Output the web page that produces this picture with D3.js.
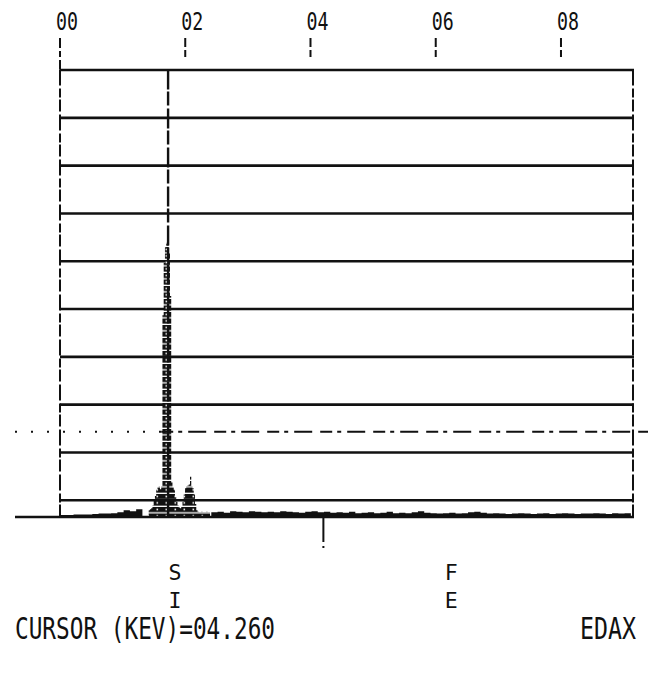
<!DOCTYPE html>
<html>
<head>
<meta charset="utf-8">
<script src="https://cdn.jsdelivr.net/npm/d3@7"></script>
<style>
  html, body { margin: 0; padding: 0; background: #fff; }
  svg { display: block; }
  text { font-family: "DejaVu Sans Mono", "Liberation Mono", monospace; fill: #111; }
</style>
</head>
<body>
<svg id="chart" width="652" height="676"></svg>
<script>
// ---------------- DATA ----------------
const tickValues = [0, 2, 4, 6, 8];
const tickLabels = ["00", "02", "04", "06", "08"];
const xMaxKeV = 9.15;

// full-scale grid levels (in grid units above baseline)
const gridLevels = [0.33, 1.33, 2.33, 3.33, 4.33, 5.33, 6.33, 7.33, 8.33, 9.33];
const markerLevel = 1.76;      // dashed threshold line
const cursorLineKeV = 1.71;    // vertical cursor inside plot
const cursorMarkKeV = 4.19;    // cursor marker below axis
const cursorText = "CURSOR (KEV)=04.260";
const brandText = "EDAX";

// background spectrum, 0.1 keV channels
const bgLowStart = 0.0;
const bgLowCounts = [0.02,0.02,0.03,0.03,0.03,0.04,0.05,0.05,0.06,0.08,0.12,0.10,0.14,0.16];
const bgHighStart = 2.4;
const bgHighCounts = [
  0.08,0.09,0.07,0.10,0.09,0.08,0.10,0.09,0.08,0.09,
  0.08,0.10,0.09,0.08,0.07,0.09,0.10,0.08,0.09,0.07,
  0.08,0.07,0.09,0.06,0.07,0.08,0.06,0.07,0.09,0.06,
  0.07,0.06,0.08,0.10,0.07,0.06,0.05,0.06,0.07,0.05,
  0.06,0.08,0.09,0.07,0.05,0.06,0.05,0.04,0.05,0.06,
  0.05,0.04,0.05,0.06,0.04,0.05,0.06,0.05,0.04,0.05,
  0.05,0.06,0.05,0.04,0.06,0.05,0.06,0.05
];
// peak region, 0.02 keV channels
const peakEnergies = [1.40,1.42,1.44,1.46,1.48,1.50,1.52,1.54,1.56,1.58,1.60,1.62,1.64,1.66,1.68,1.70,1.72,1.74,1.76,1.78,1.80,1.82,1.84,1.86,1.88,1.90,1.92,1.94,1.96,1.98,2.00,2.02,2.04,2.06,2.08,2.10,2.12,2.14,2.16,2.18,2.20,2.22,2.24,2.26,2.28,2.30,2.32,2.34,2.36,2.38];
const peakCounts   = [0.12,0.14,0.16,0.22,0.35,0.42,0.55,0.60,0.62,0.56,0.62,4.20,5.30,5.62,5.72,5.68,5.50,4.60,0.70,0.60,0.55,0.40,0.30,0.22,0.18,0.16,0.20,0.30,0.45,0.58,0.62,0.64,0.66,0.82,0.62,0.58,0.45,0.25,0.12,0.09,0.08,0.08,0.09,0.08,0.08,0.08,0.09,0.08,0.08,0.08];

const elemLabels = [
  {keV: 1.82, row: 0, t: "S"}, {keV: 1.82, row: 1, t: "I"},
  {keV: 6.23, row: 0, t: "F"}, {keV: 6.23, row: 1, t: "E"}
];

// ---------------- LAYOUT ----------------
const svg = d3.select("#chart");
const left = 61, right = 634, base = 516, topY = 69.5;
const unitPx = 47.8;
const x = d3.scaleLinear().domain([0, xMaxKeV]).range([left, right]);
const y = d3.scaleLinear().domain([0, (base - topY) / unitPx]).range([base, topY]);

// pattern for dot-matrix peak glyphs
const defs = svg.append("defs");
const pat = defs.append("pattern").attr("id", "dm").attr("patternUnits", "userSpaceOnUse")
  .attr("width", 9).attr("height", 6.5);
pat.append("rect").attr("width", 9).attr("height", 5.2).attr("fill", "#111");
pat.append("rect").attr("x", 3.5).attr("y", 1.6).attr("width", 1.6).attr("height", 1.6).attr("fill", "#fff");

// grid lines
svg.append("g").selectAll("line").data(gridLevels).join("line")
  .attr("x1", x(0) - 1).attr("x2", x(xMaxKeV))
  .attr("y1", d => y(d)).attr("y2", d => y(d))
  .attr("stroke", "#111").attr("stroke-width", 2.6);

// vertical borders (dashed, printer-like)
svg.append("g").selectAll("line").data([0, xMaxKeV]).join("line")
  .attr("x1", d => x(d) - 1).attr("x2", d => x(d) - 1)
  .attr("y1", topY).attr("y2", base)
  .attr("stroke", "#111").attr("stroke-width", 2)
  .attr("stroke-dasharray", "16,3,9,2,12,3");

// top ticks & labels
const tg = svg.append("g");
tg.selectAll("line").data(tickValues).join("line")
  .attr("x1", d => x(d) - 1).attr("x2", d => x(d) - 1)
  .attr("y1", 38).attr("y2", d => d === 0 ? topY : 57)
  .attr("stroke", "#111").attr("stroke-width", 2)
  .attr("stroke-dasharray", d => d === 0 ? "10,3,6,3,40" : "9,3,40");
tg.selectAll("text").data(tickValues).join("text")
  .attr("x", d => x(d) - 5).attr("y", 30)
  .attr("font-size", 24)
  .attr("textLength", 22).attr("lengthAdjust", "spacingAndGlyphs")
  .text((d, i) => tickLabels[i]);

// spectrum background
const bg = [];
bgLowCounts.forEach((c, i) => bg.push([bgLowStart + i * 0.1, c]));
const bgHigh = [];
bgHighCounts.forEach((c, i) => bgHigh.push([bgHighStart + i * 0.1, c]));
const area = d3.area().x(d => x(d[0])).y0(base).y1(d => y(d[1])).curve(d3.curveStepAfter);
svg.append("path").datum(bg).attr("d", area).attr("fill", "#111");
svg.append("path").datum(bgHigh).attr("d", area).attr("fill", "#111");

// peak region: dot-matrix style
const peak = peakEnergies.map((e, i) => [e, peakCounts[i]]);
svg.append("path").datum(peak).attr("d", area).attr("fill", "url(#dm)");

// cursor line inside plot
svg.append("line")
  .attr("x1", x(cursorLineKeV)).attr("x2", x(cursorLineKeV))
  .attr("y1", topY).attr("y2", base)
  .attr("stroke", "#111").attr("stroke-width", 2.4)
  .attr("stroke-dasharray", "20,2,14,3");

// dashed threshold line
const my = y(markerLevel);
svg.append("line").attr("x1", 15).attr("x2", x(1.6)).attr("y1", my).attr("y2", my)
  .attr("stroke", "#111").attr("stroke-width", 2).attr("stroke-dasharray", "2,14");
svg.append("line").attr("x1", x(1.6)).attr("x2", 648).attr("y1", my).attr("y2", my)
  .attr("stroke", "#111").attr("stroke-width", 2).attr("stroke-dasharray", "12,5,4,6,18,8");

// baseline axis
svg.append("line").attr("x1", 15).attr("x2", x(xMaxKeV)).attr("y1", base + 1).attr("y2", base + 1)
  .attr("stroke", "#111").attr("stroke-width", 2.6);

// cursor marker under axis
svg.append("line")
  .attr("x1", x(cursorMarkKeV)).attr("x2", x(cursorMarkKeV))
  .attr("y1", base + 2).attr("y2", 548)
  .attr("stroke", "#111").attr("stroke-width", 2).attr("stroke-dasharray", "24,4,2");

// element labels
svg.append("g").selectAll("text").data(elemLabels).join("text")
  .attr("x", d => x(d.keV)).attr("y", d => 580 + d.row * 28)
  .attr("text-anchor", "middle").attr("font-size", 22)
  .attr("textLength", 13).attr("lengthAdjust", "spacingAndGlyphs")
  .text(d => d.t);

// footer text
svg.append("text").attr("x", 15).attr("y", 639).attr("font-size", 30)
  .attr("textLength", 260).attr("lengthAdjust", "spacingAndGlyphs")
  .text(cursorText);
svg.append("text").attr("x", 580).attr("y", 639).attr("font-size", 30)
  .attr("textLength", 56).attr("lengthAdjust", "spacingAndGlyphs")
  .text(brandText);
</script>
</body>
</html>
